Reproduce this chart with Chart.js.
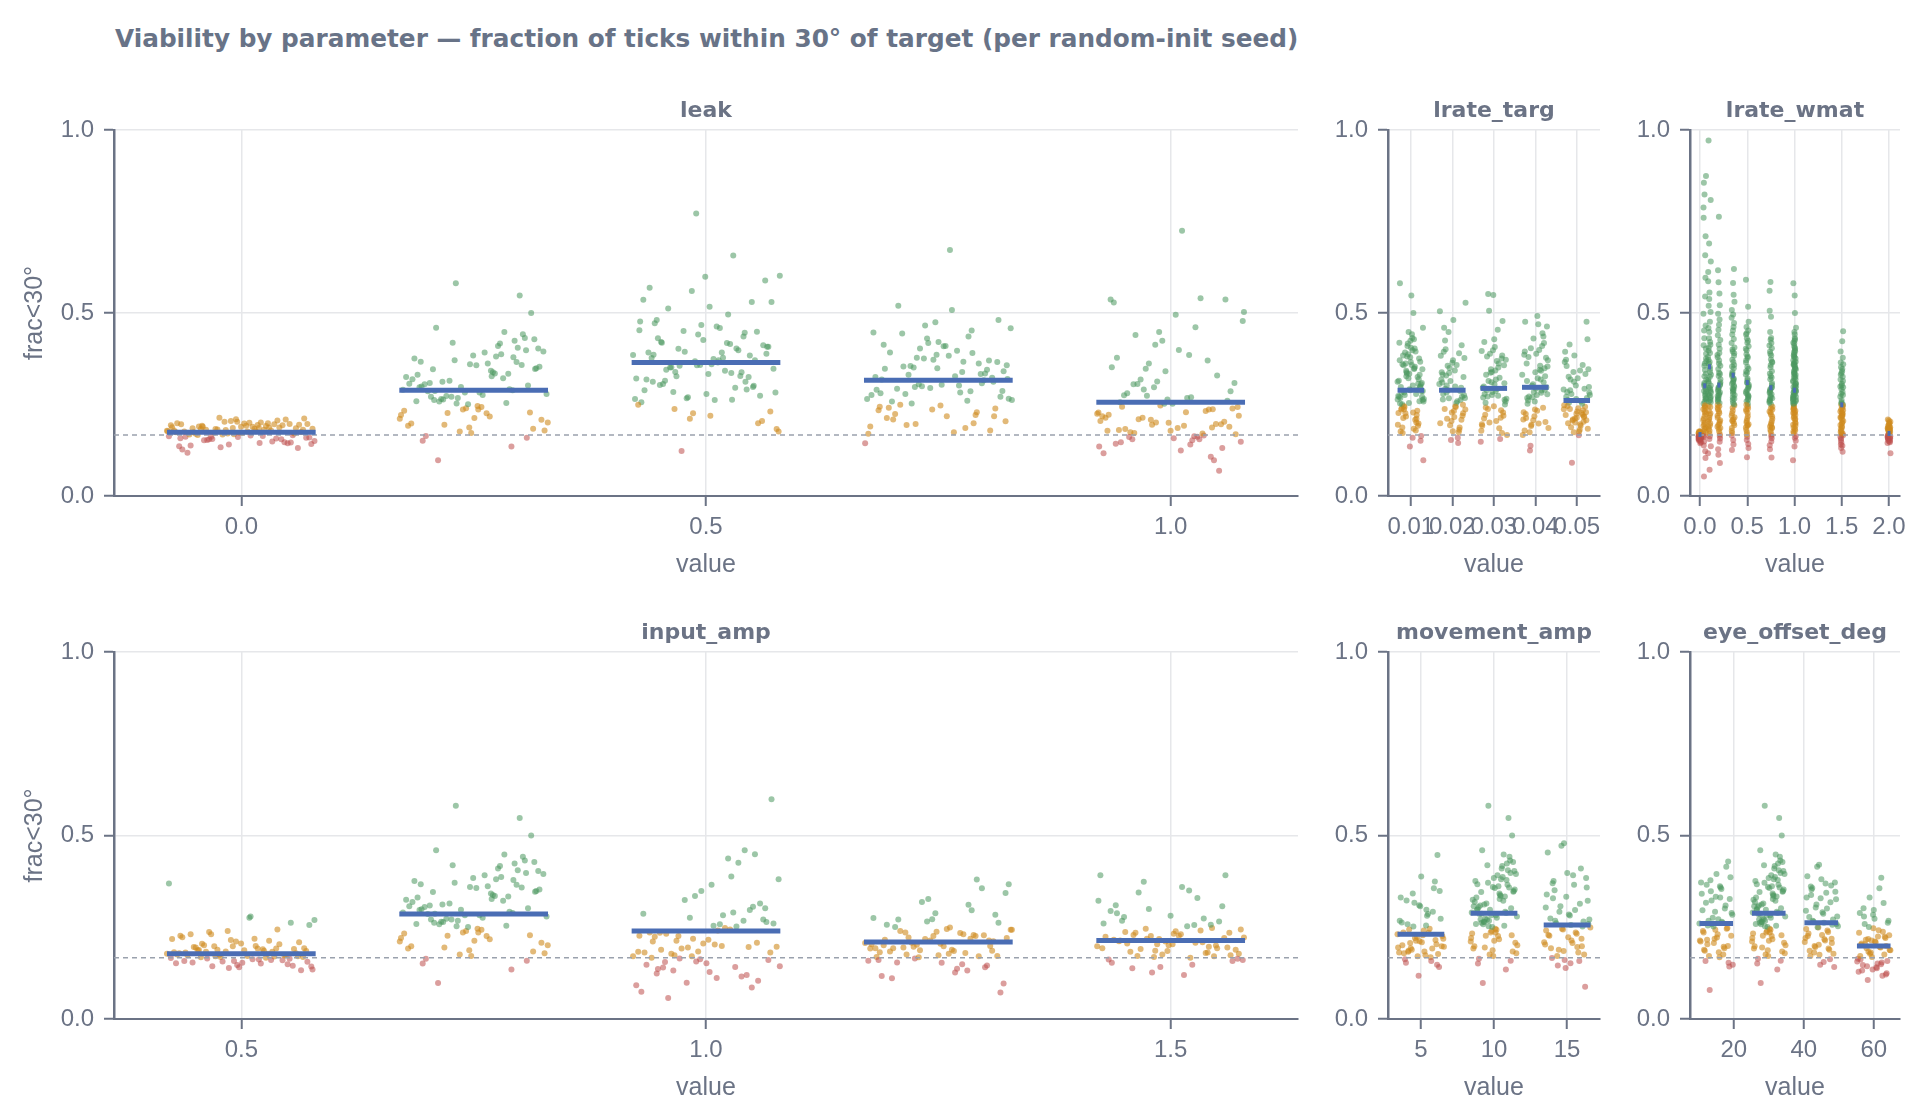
<!DOCTYPE html>
<html>
<head>
<meta charset="utf-8">
<script src="https://cdn.jsdelivr.net/npm/chart.js@4.4.1/dist/chart.umd.min.js"></script>
<style>
  body { margin: 0; background: #fff; width: 1920px; height: 1120px; position: relative; overflow: hidden; }
  canvas { position: absolute; }
  #title { position: absolute; left: 115px; top: 24px; font: bold 24.75px "DejaVu Sans", sans-serif; line-height: 30px; color: #687387; white-space: nowrap; }
</style>
</head>
<body>
<div id="title">Viability by parameter — fraction of ticks within 30° of target (per random-init seed)</div>
<canvas id="c-leak" width="1320" height="526" style="left:0px;top:60px"></canvas>
<canvas id="c-targ" width="302" height="526" style="left:1318px;top:60px"></canvas>
<canvas id="c-wmat" width="300" height="526" style="left:1620px;top:60px"></canvas>
<canvas id="c-input" width="1320" height="527" style="left:0px;top:582px"></canvas>
<canvas id="c-move" width="302" height="527" style="left:1318px;top:582px"></canvas>
<canvas id="c-eye" width="300" height="527" style="left:1620px;top:582px"></canvas>
<script>
// chance level (dashed line) and colour bands
var CHANCE = 1 / 6;
var GOOD = 0.25;

var yTicks = [0, 0.5, 1];
var yTickLabels = ['0.0', '0.5', '1.0'];

// baseline config (leak 0.25, lrate_targ 0.01, lrate_wmat 1.0, input_amp 0.75, movement_amp 10, eye_offset 30)
var baseline = [0.312,0.428,0.246,0.367,0.289,0.581,0.201,0.342,0.262,0.398,0.187,0.319,0.448,0.227,0.353,0.276,0.164,0.405,0.298,0.233,0.381,0.258,0.5,0.213,0.331,0.292,0.419,0.179,0.362,0.271,0.442,0.24,0.307,0.387,0.195,0.349,0.283,0.151,0.424,0.268,0.221,0.338,0.46,0.302,0.172,0.376,0.254,0.315,0.208,0.392,0.286,0.548,0.236,0.325,0.41,0.265,0.184,0.357,0.297,0.135,0.371,0.279,0.217,0.346,0.432,0.251,0.198,0.322,0.273,0.403,0.243,0.305,0.366,0.176,0.29,0.335,0.098,0.228,0.384,0.259,0.334,0.271,0.395,0.226,0.309,0.358,0.283,0.192,0.417,0.264,0.347,0.236,0.299,0.379,0.253,0.211,0.327,0.287,0.159,0.36];

// leak
var leakValues = [0, 0.25, 0.5, 0.75, 1.0];
var leakTicks = [0, 0.5, 1];
var leakTickLabels = ['0.0', '0.5', '1.0'];
var leak00 = [0.178,0.186,0.192,0.171,0.203,0.158,0.149,0.183,0.197,0.165,0.174,0.209,0.141,0.188,0.181,0.153,0.195,0.172,0.162,0.206,0.133,0.184,0.177,0.19,0.146,0.169,0.199,0.187,0.156,0.212,0.176,0.138,0.193,0.18,0.163,0.201,0.152,0.185,0.173,0.127,0.196,0.182,0.16,0.189,0.17,0.144,0.205,0.179,0.191,0.155,0.175,0.198,0.118,0.187,0.168,0.15,0.194,0.183,0.166,0.21,0.136,0.179,0.173,0.159,0.2,0.185,0.147,0.171,0.193,0.164,0.181,0.131,0.189,0.176,0.157,0.214,0.142,0.184,0.167,0.197,0.186,0.174,0.199,0.162,0.181,0.192,0.168,0.155,0.203,0.177,0.145,0.189,0.172,0.161,0.196];
var leak050 = [0.365,0.421,0.298,0.772,0.453,0.336,0.238,0.389,0.517,0.312,0.446,0.27,0.602,0.378,0.345,0.199,0.467,0.289,0.403,0.356,0.53,0.262,0.431,0.384,0.226,0.321,0.496,0.352,0.412,0.279,0.569,0.338,0.394,0.183,0.459,0.306,0.371,0.441,0.256,0.657,0.327,0.408,0.36,0.472,0.291,0.211,0.385,0.342,0.512,0.274,0.426,0.318,0.398,0.123,0.348,0.463,0.303,0.53,0.368,0.249,0.415,0.284,0.589,0.333,0.377,0.436,0.267,0.176,0.392,0.315,0.449,0.358,0.536,0.296,0.402,0.231,0.374,0.481,0.325,0.56,0.265,0.418,0.351,0.205,0.599,0.392,0.328,0.451,0.283,0.371,0.419,0.301,0.357,0.477,0.263,0.339,0.408,0.219,0.386,0.312];
var leak075 = [0.312,0.386,0.244,0.452,0.298,0.357,0.672,0.209,0.335,0.418,0.276,0.367,0.194,0.481,0.304,0.348,0.229,0.403,0.262,0.327,0.52,0.179,0.372,0.29,0.436,0.253,0.341,0.218,0.392,0.308,0.466,0.17,0.283,0.354,0.239,0.421,0.318,0.199,0.378,0.266,0.508,0.224,0.345,0.295,0.447,0.186,0.331,0.271,0.409,0.213,0.362,0.3,0.144,0.397,0.249,0.323,0.475,0.234,0.286,0.351,0.204,0.383,0.258,0.316,0.43,0.19,0.339,0.279,0.366,0.247,0.413,0.221,0.305,0.458,0.174,0.293,0.37,0.236,0.325,0.26,0.355,0.287,0.41,0.241,0.333,0.376,0.265,0.302,0.444,0.218,0.349,0.281,0.391,0.197,0.32];
var leak100 = [0.256,0.187,0.413,0.228,0.141,0.305,0.537,0.2,0.352,0.165,0.274,0.219,0.725,0.183,0.329,0.247,0.117,0.461,0.21,0.286,0.158,0.378,0.236,0.195,0.503,0.268,0.174,0.131,0.341,0.222,0.54,0.291,0.169,0.399,0.244,0.098,0.313,0.205,0.152,0.44,0.26,0.178,0.529,0.232,0.362,0.148,0.192,0.281,0.069,0.424,0.214,0.162,0.318,0.239,0.495,0.18,0.107,0.297,0.225,0.385,0.155,0.203,0.264,0.537,0.171,0.348,0.243,0.124,0.275,0.197,0.448,0.218,0.163,0.306,0.189,0.252,0.143,0.37,0.208,0.478,0.229,0.161,0.196,0.252,0.178,0.155,0.214,0.309,0.186,0.147,0.237,0.201,0.135,0.27,0.172];
var leakMeans = [0.174, 0.289, 0.365, 0.316, 0.256];

// lrate_targ
var targValues = [0.01, 0.02, 0.03, 0.04, 0.05];
var targTicks = [0.01, 0.02, 0.03, 0.04, 0.05];
var targTickLabels = ['0.01', '0.02', '0.03', '0.04', '0.05'];
var targ02 = [0.302,0.226,0.371,0.264,0.181,0.336,0.528,0.245,0.293,0.412,0.205,0.318,0.159,0.356,0.275,0.232,0.394,0.287,0.193,0.505,0.254,0.329,0.219,0.364,0.31,0.174,0.448,0.268,0.343,0.238,0.296,0.153,0.383,0.259,0.211,0.325,0.481,0.279,0.187,0.35,0.306,0.243,0.401,0.271,0.228,0.338,0.145,0.289,0.377,0.216,0.46,0.262,0.314,0.199,0.358,0.283,0.249,0.177,0.332,0.39,0.267,0.236,0.299,0.425,0.208];
var targ03 = [0.318,0.242,0.384,0.276,0.196,0.351,0.552,0.263,0.305,0.421,0.214,0.337,0.167,0.369,0.289,0.228,0.398,0.296,0.185,0.506,0.258,0.343,0.222,0.376,0.311,0.178,0.454,0.272,0.357,0.245,0.299,0.156,0.389,0.266,0.205,0.331,0.478,0.284,0.192,0.362,0.314,0.25,0.407,0.279,0.234,0.346,0.148,0.293,0.381,0.219,0.549,0.269,0.323,0.201,0.372,0.287,0.255,0.172,0.339,0.396,0.274,0.238,0.308,0.428,0.212];
var targ04 = [0.327,0.236,0.395,0.282,0.191,0.354,0.492,0.268,0.311,0.43,0.209,0.345,0.174,0.378,0.293,0.224,0.41,0.301,0.186,0.469,0.261,0.349,0.218,0.386,0.318,0.137,0.463,0.276,0.362,0.241,0.305,0.167,0.399,0.272,0.202,0.338,0.476,0.288,0.195,0.371,0.322,0.252,0.418,0.284,0.229,0.356,0.124,0.297,0.389,0.213,0.445,0.27,0.331,0.198,0.38,0.29,0.258,0.179,0.342,0.404,0.278,0.233,0.314,0.436,0.207];
var targ05 = [0.262,0.218,0.312,0.237,0.196,0.289,0.476,0.225,0.271,0.358,0.206,0.298,0.166,0.326,0.244,0.212,0.366,0.258,0.188,0.428,0.231,0.284,0.203,0.339,0.276,0.181,0.414,0.229,0.302,0.221,0.252,0.091,0.346,0.24,0.199,0.293,0.384,0.248,0.192,0.318,0.268,0.214,0.355,0.234,0.209,0.282,0.176,0.255,0.333,0.201,0.394,0.227,0.279,0.184,0.322,0.246,0.216,0.174,0.291,0.343,0.238,0.207,0.265,0.372,0.222];
var targMeans = [0.289, 0.289, 0.294, 0.297, 0.261];

// lrate_wmat
var wmatValues = [0, 0.05, 0.1, 0.2, 0.35, 0.5, 0.75, 1.0, 1.5, 2.0];
var wmatTicks = [0, 0.5, 1, 1.5, 2];
var wmatTickLabels = ['0.0', '0.5', '1.0', '1.5', '2.0'];
var wmat000 = [0.163,0.171,0.158,0.167,0.174,0.152,0.165,0.169,0.161,0.177,0.156,0.168,0.164,0.172,0.149,0.166,0.16,0.175,0.155,0.17,0.162,0.168,0.144,0.173,0.159,0.166,0.171,0.157,0.164,0.169,0.153,0.176,0.161,0.167,0.158,0.172,0.165,0.147,0.17,0.163];
var wmat005 = [0.301,0.874,0.228,0.412,0.187,0.356,0.263,0.545,0.161,0.334,0.219,0.788,0.279,0.196,0.389,0.241,0.138,0.466,0.305,0.207,0.658,0.287,0.175,0.362,0.252,0.104,0.431,0.318,0.233,0.856,0.268,0.184,0.498,0.296,0.149,0.376,0.245,0.212,0.71,0.327,0.171,0.274,0.053,0.403,0.258,0.192,0.596,0.309,0.224,0.344,0.164,0.283,0.824,0.237,0.122,0.452,0.291,0.201,0.76,0.266,0.179,0.368,0.248];
var wmat010 = [0.354,0.971,0.262,0.448,0.205,0.391,0.309,0.809,0.178,0.372,0.243,0.69,0.331,0.221,0.52,0.286,0.156,0.612,0.347,0.233,0.641,0.296,0.189,0.413,0.275,0.117,0.476,0.362,0.256,0.556,0.318,0.199,0.431,0.282,0.163,0.397,0.268,0.214,0.587,0.339,0.184,0.302,0.072,0.459,0.291,0.209,0.38,0.326,0.247,0.503,0.171,0.313,0.421,0.258,0.136,0.366,0.295,0.226,0.538,0.279,0.193,0.405,0.271];
var wmat020 = [0.303,0.763,0.241,0.402,0.194,0.356,0.276,0.617,0.169,0.328,0.219,0.553,0.291,0.207,0.468,0.262,0.148,0.584,0.319,0.226,0.498,0.283,0.183,0.379,0.254,0.113,0.426,0.337,0.236,0.521,0.297,0.189,0.391,0.269,0.157,0.362,0.249,0.203,0.454,0.311,0.176,0.287,0.09,0.413,0.273,0.198,0.347,0.306,0.231,0.439,0.164,0.295,0.385,0.245,0.128,0.333,0.28,0.214,0.482,0.266,0.186,0.37,0.258];
var wmat035 = [0.331,0.62,0.262,0.418,0.21,0.372,0.298,0.582,0.186,0.349,0.241,0.531,0.314,0.226,0.473,0.285,0.165,0.55,0.339,0.247,0.496,0.307,0.199,0.395,0.276,0.141,0.441,0.358,0.255,0.508,0.321,0.204,0.406,0.291,0.172,0.383,0.269,0.219,0.462,0.334,0.193,0.31,0.126,0.429,0.294,0.215,0.366,0.327,0.251,0.452,0.178,0.318,0.4,0.266,0.153,0.354,0.302,0.233,0.487,0.288,0.207,0.39,0.279];
var wmat050 = [0.31,0.591,0.245,0.398,0.196,0.353,0.281,0.517,0.174,0.332,0.226,0.462,0.297,0.211,0.441,0.268,0.153,0.476,0.321,0.232,0.452,0.289,0.187,0.378,0.259,0.131,0.419,0.341,0.239,0.43,0.304,0.192,0.387,0.274,0.162,0.365,0.252,0.205,0.409,0.316,0.181,0.293,0.106,0.402,0.277,0.201,0.348,0.309,0.236,0.424,0.168,0.3,0.381,0.249,0.142,0.337,0.285,0.218,0.445,0.271,0.194,0.371,0.263];
var wmat075 = [0.296,0.585,0.236,0.384,0.19,0.341,0.27,0.561,0.168,0.319,0.217,0.49,0.285,0.204,0.427,0.259,0.149,0.448,0.309,0.223,0.506,0.278,0.181,0.365,0.25,0.128,0.404,0.328,0.231,0.418,0.292,0.186,0.373,0.264,0.158,0.352,0.244,0.199,0.395,0.303,0.176,0.282,0.105,0.389,0.267,0.195,0.335,0.297,0.228,0.411,0.163,0.288,0.367,0.24,0.139,0.324,0.274,0.211,0.432,0.261,0.188,0.358,0.255];
var wmat150 = [0.249,0.45,0.198,0.331,0.171,0.292,0.231,0.423,0.158,0.276,0.19,0.395,0.244,0.178,0.36,0.22,0.141,0.378,0.262,0.194,0.347,0.236,0.166,0.307,0.213,0.121,0.336,0.271,0.201,0.352,0.25,0.168,0.318,0.226,0.147,0.297,0.209,0.183,0.326,0.256,0.162,0.24,0.131,0.314,0.228,0.175,0.284,0.253,0.205,0.341,0.153,0.247,0.302,0.216,0.137,0.279,0.234,0.187,0.365,0.223,0.172,0.299,0.218];
var wmat200 = [0.172,0.186,0.158,0.194,0.165,0.179,0.151,0.203,0.169,0.183,0.147,0.176,0.162,0.198,0.155,0.188,0.171,0.209,0.16,0.181,0.117,0.174,0.192,0.153,0.167,0.185,0.149,0.178,0.163,0.2,0.157,0.182,0.17,0.145,0.189,0.166,0.175,0.206,0.159,0.184];
var wmatMeans = [0.168, 0.301, 0.353, 0.303, 0.33, 0.31, 0.296, 0.289, 0.249, 0.171];

// input_amp
var inputValues = [0.5, 0.75, 1.0, 1.25, 1.5];
var inputTicks = [0.5, 1, 1.5];
var inputTickLabels = ['0.5', '1.0', '1.5'];
var input050 = [0.178,0.162,0.205,0.191,0.147,0.227,0.183,0.171,0.156,0.279,0.196,0.174,0.139,0.218,0.186,0.165,0.209,0.153,0.181,0.244,0.169,0.135,0.199,0.188,0.262,0.158,0.176,0.213,0.144,0.193,0.172,0.231,0.16,0.184,0.369,0.151,0.201,0.179,0.141,0.223,0.17,0.189,0.256,0.163,0.195,0.149,0.215,0.182,0.167,0.237,0.133,0.187,0.174,0.204,0.157,0.27,0.192,0.168,0.145,0.211,0.179,0.161,0.198,0.185,0.276,0.154,0.173,0.24,0.166,0.19,0.183,0.171,0.206,0.158,0.192,0.175,0.143,0.219,0.187,0.164,0.198,0.152,0.178,0.231,0.169];
var input100 = [0.241,0.189,0.306,0.157,0.227,0.388,0.174,0.264,0.128,0.211,0.46,0.195,0.144,0.283,0.232,0.104,0.349,0.181,0.252,0.165,0.599,0.203,0.136,0.297,0.219,0.092,0.437,0.178,0.271,0.152,0.236,0.116,0.324,0.197,0.258,0.14,0.449,0.184,0.074,0.29,0.213,0.161,0.366,0.224,0.12,0.276,0.171,0.248,0.057,0.315,0.206,0.148,0.426,0.192,0.26,0.112,0.235,0.086,0.335,0.183,0.244,0.132,0.302,0.216,0.167,0.268,0.099,0.381,0.199,0.155,0.208,0.163,0.287,0.142,0.226,0.181,0.254,0.124,0.196,0.171];
var input125 = [0.212,0.238,0.182,0.296,0.165,0.221,0.249,0.193,0.141,0.327,0.204,0.231,0.176,0.262,0.153,0.216,0.38,0.187,0.243,0.127,0.271,0.199,0.226,0.169,0.311,0.208,0.097,0.245,0.184,0.356,0.218,0.159,0.234,0.195,0.284,0.174,0.117,0.229,0.202,0.367,0.189,0.251,0.146,0.214,0.275,0.18,0.222,0.072,0.198,0.257,0.171,0.319,0.207,0.137,0.24,0.186,0.288,0.161,0.219,0.197,0.343,0.178,0.111,0.228,0.266,0.192,0.149,0.236,0.172,0.205,0.201,0.226,0.168,0.243,0.185,0.154,0.214,0.272,0.193,0.132];
var input150 = [0.214,0.248,0.186,0.322,0.167,0.229,0.392,0.201,0.153,0.274,0.219,0.178,0.36,0.237,0.193,0.142,0.26,0.208,0.345,0.174,0.232,0.288,0.197,0.127,0.222,0.253,0.183,0.307,0.211,0.162,0.241,0.374,0.189,0.227,0.268,0.171,0.204,0.392,0.148,0.235,0.195,0.281,0.216,0.18,0.3,0.244,0.12,0.206,0.266,0.176,0.224,0.33,0.191,0.158,0.239,0.212,0.257,0.169,0.198,0.35,0.138,0.221,0.185,0.294,0.209,0.246,0.164,0.231,0.278,0.2,0.218,0.193,0.256,0.172,0.235,0.204,0.31,0.181,0.226,0.161];
var inputMeans = [0.178, 0.286, 0.24, 0.21, 0.214];

// movement_amp
var moveValues = [5, 10, 15];
var moveTicks = [5, 10, 15];
var moveTickLabels = ['5', '10', '15'];
var move05 = [0.231,0.298,0.186,0.447,0.212,0.263,0.168,0.342,0.198,0.241,0.153,0.375,0.224,0.181,0.286,0.207,0.142,0.388,0.236,0.192,0.317,0.219,0.174,0.258,0.204,0.118,0.331,0.246,0.189,0.273,0.228,0.163,0.356,0.213,0.195,0.281,0.244,0.177,0.307,0.201,0.158,0.252,0.226,0.184,0.323,0.215,0.171,0.268,0.235,0.193,0.349,0.209,0.179,0.292,0.221,0.197,0.255,0.183,0.148,0.31];
var move15 = [0.256,0.329,0.198,0.479,0.241,0.297,0.172,0.384,0.223,0.274,0.158,0.472,0.249,0.207,0.351,0.266,0.139,0.454,0.232,0.189,0.322,0.282,0.166,0.41,0.244,0.203,0.366,0.261,0.088,0.398,0.227,0.181,0.307,0.271,0.214,0.376,0.252,0.161,0.339,0.236,0.146,0.358,0.285,0.193,0.314,0.246,0.209,0.392,0.268,0.176,0.333,0.229,0.196,0.292,0.259,0.152,0.37,0.219,0.185,0.304];
var moveMeans = [0.231, 0.288, 0.256];

// eye_offset_deg
var eyeValues = [15, 30, 45, 60];
var eyeTicks = [20, 40, 60];
var eyeTickLabels = ['20', '40', '60'];
var eye15 = [0.26,0.331,0.204,0.429,0.243,0.296,0.176,0.378,0.227,0.272,0.158,0.415,0.252,0.211,0.354,0.268,0.143,0.395,0.236,0.193,0.323,0.284,0.168,0.366,0.248,0.219,0.341,0.262,0.079,0.386,0.231,0.186,0.309,0.276,0.214,0.358,0.255,0.153,0.333,0.24,0.197,0.348,0.289,0.182,0.317,0.246,0.207,0.372,0.265,0.172,0.327,0.222,0.189,0.301,0.258,0.148,0.362,0.216,0.199,0.292];
var eye45 = [0.262,0.338,0.207,0.42,0.245,0.301,0.181,0.372,0.229,0.278,0.163,0.415,0.253,0.214,0.357,0.271,0.148,0.389,0.237,0.196,0.326,0.287,0.172,0.364,0.249,0.221,0.344,0.266,0.142,0.381,0.233,0.189,0.312,0.279,0.217,0.353,0.257,0.175,0.331,0.241,0.199,0.347,0.291,0.186,0.318,0.25,0.21,0.369,0.268,0.178,0.329,0.226,0.192,0.304,0.259,0.155,0.361,0.219,0.202,0.295];
var eye60 = [0.199,0.247,0.162,0.385,0.183,0.228,0.141,0.302,0.176,0.214,0.129,0.356,0.193,0.158,0.273,0.206,0.118,0.331,0.187,0.151,0.259,0.221,0.135,0.289,0.195,0.106,0.268,0.209,0.147,0.316,0.181,0.164,0.242,0.216,0.125,0.297,0.202,0.154,0.251,0.188,0.138,0.279,0.224,0.169,0.235,0.196,0.144,0.262,0.211,0.132,0.238,0.178,0.157,0.225,0.204,0.121,0.284,0.172,0.149,0.218];
var eyeMeans = [0.26, 0.288, 0.262, 0.199];

var TEXT = '#6b7385';
var AXIS = '#6b7385';
var GRID = '#e6e7ea';
var TICK_FONT = '"Liberation Sans", Arial, sans-serif';
var RED = 'rgba(190,78,76,0.55)';
var ORANGE = 'rgba(207,138,30,0.6)';
var GREEN = 'rgba(74,152,94,0.55)';
var BLUE = '#4a6db4';

var panels = [
  { id: 'c-leak', title: 'leak', cats: leakValues, groups: [leak00, baseline, leak050, leak075, leak100], means: leakMeans,
    ticks: leakTicks, labels: leakTickLabels, min: -0.137, max: 1.137, jitter: 0.08, yWidth: 114, padRight: 22, yTitle: true },
  { id: 'c-targ', title: 'lrate_targ', cats: targValues, groups: [baseline, targ02, targ03, targ04, targ05], means: targMeans,
    ticks: targTicks, labels: targTickLabels, min: 0.0045, max: 0.0556, jitter: 0.0032, yWidth: 70, padRight: 20, yTitle: false },
  { id: 'c-wmat', title: 'lrate_wmat', cats: wmatValues, groups: [wmat000, wmat005, wmat010, wmat020, wmat035, wmat050, wmat075, baseline, wmat150, wmat200], means: wmatMeans,
    ticks: wmatTicks, labels: wmatTickLabels, min: -0.106, max: 2.116, jitter: 0.016, yWidth: 70, padRight: 20, yTitle: false },
  { id: 'c-input', title: 'input_amp', cats: inputValues, groups: [input050, baseline, input100, input125, input150], means: inputMeans,
    ticks: inputTicks, labels: inputTickLabels, min: 0.363, max: 1.637, jitter: 0.08, yWidth: 114, padRight: 22, yTitle: true },
  { id: 'c-move', title: 'movement_amp', cats: moveValues, groups: [move05, baseline, move15], means: moveMeans,
    ticks: moveTicks, labels: moveTickLabels, min: 2.75, max: 17.25, jitter: 1.6, yWidth: 70, padRight: 20, yTitle: false },
  { id: 'c-eye', title: 'eye_offset_deg', cats: eyeValues, groups: [eye15, baseline, eye45, eye60], means: eyeMeans,
    ticks: eyeTicks, labels: eyeTickLabels, min: 7.5, max: 67.5, jitter: 4.8, yWidth: 70, padRight: 20, yTitle: false }
];

function bandColor(v) {
  if (v < CHANCE) return RED;
  if (v < GOOD) return ORANGE;
  return GREEN;
}

// subplot title above the plot area
var panelTitle = {
  id: 'panelTitle',
  afterDraw: function (chart, args, opts) {
    var a = chart.chartArea, ctx = chart.ctx;
    ctx.save();
    ctx.font = 'bold 22px "DejaVu Sans", sans-serif';
    ctx.fillStyle = TEXT;
    ctx.textAlign = 'center';
    ctx.textBaseline = 'alphabetic';
    ctx.fillText(opts.text, (a.left + a.right) / 2, a.top - 13);
    ctx.restore();
  }
};

panels.forEach(function (p) {
  var pts = [];
  p.groups.forEach(function (g, gi) {
    g.forEach(function (v, i) {
      var j = ((i * 0.6180339887 + gi * 0.29) % 1) - 0.5;   // even spread across the strip
      pts.push({ x: p.cats[gi] + j * 2 * p.jitter, y: v });
    });
  });

  var datasets = [];
  p.means.forEach(function (m, gi) {
    datasets.push({
      type: 'line', data: [{ x: p.cats[gi] - p.jitter, y: m }, { x: p.cats[gi] + p.jitter, y: m }],
      borderColor: BLUE, borderWidth: 5, borderCapStyle: 'butt', pointRadius: 0, order: 0
    });
  });
  datasets.push({
    type: 'line', data: [{ x: p.min, y: CHANCE }, { x: p.max, y: CHANCE }],
    borderColor: '#9aa1ad', borderWidth: 1.5, borderDash: [5, 4], pointRadius: 0, order: 1
  });
  datasets.push({
    data: pts, pointRadius: 3, pointBorderWidth: 0,
    pointBackgroundColor: pts.map(function (pt) { return bandColor(pt.y); }), order: 2
  });

  new Chart(document.getElementById(p.id), {
    type: 'scatter',
    data: { datasets: datasets },
    options: {
      responsive: false,
      animation: false,
      devicePixelRatio: 1,
      events: [],
      layout: { padding: { top: 70, right: p.padRight, bottom: 0, left: 0 } },
      plugins: { legend: { display: false }, tooltip: { enabled: false }, panelTitle: { text: p.title } },
      scales: {
        x: {
          type: 'linear', min: p.min, max: p.max,
          afterBuildTicks: function (s) { s.ticks = p.ticks.map(function (v) { return { value: v }; }); },
          afterFit: function (s) { s.height = 90; },
          ticks: {
            autoSkip: false, maxRotation: 0, minRotation: 0, padding: 7, color: TEXT,
            font: { family: TICK_FONT, size: 24 },
            callback: function (v, i) { return p.labels[i]; }
          },
          grid: { color: GRID, lineWidth: 1.5, tickLength: 10, tickColor: AXIS, tickWidth: 2 },
          border: { color: AXIS, width: 2 },
          title: { display: true, text: 'value', color: TEXT, font: { family: TICK_FONT, size: 25 }, padding: { top: 0, bottom: 6 } }
        },
        y: {
          min: 0, max: 1,
          afterBuildTicks: function (s) { s.ticks = yTicks.map(function (v) { return { value: v }; }); },
          afterFit: function (s) { s.width = p.yWidth; },
          ticks: {
            padding: 10, color: TEXT, font: { family: TICK_FONT, size: 24 },
            callback: function (v, i) { return yTickLabels[i]; }
          },
          grid: { color: GRID, lineWidth: 1.5, tickLength: 10, tickColor: AXIS, tickWidth: 2 },
          border: { color: AXIS, width: 2.5 },
          title: { display: p.yTitle, text: 'frac<30°', color: TEXT, font: { family: TICK_FONT, size: 25 }, padding: { top: 20, bottom: 0 } }
        }
      }
    },
    plugins: [panelTitle]
  });
});
</script>
</body>
</html>
